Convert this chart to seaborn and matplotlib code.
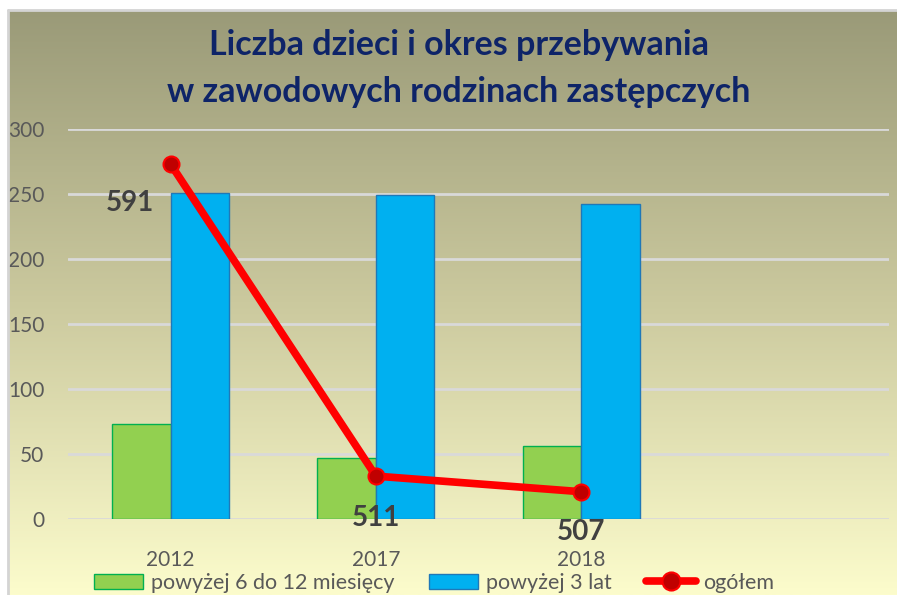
import numpy as np
import pandas as pd
import matplotlib
matplotlib.use('Agg')
import matplotlib.pyplot as plt
import seaborn as sns
from matplotlib.colors import LinearSegmentedColormap
from matplotlib.patches import Patch
from matplotlib.lines import Line2D

# ---- data ----
years = ['2012', '2017', '2018']
series_names = ['powyżej 6 do 12 miesięcy', 'powyżej 3 lat']
short_stay = [73, 47, 56]
long_stay = [251, 249, 242]
total = [591, 511, 507]
total_name = 'ogółem'
title_lines = ['Liczba dzieci i okres przebywania', 'w zawodowych rodzinach zastępczych']
y_ticks = [0, 50, 100, 150, 200, 250, 300]

sns.set_theme(style='white')
plt.rcParams['font.family'] = ['Lato', 'DejaVu Sans']

W, H = 897, 595
fig = plt.figure(figsize=(W / 100, H / 100), dpi=100)
fig.patch.set_facecolor('white')

# gradient background panel
bg = fig.add_axes([8 / W, 0, 1 - 8 / W, 585 / H])
grad = np.linspace(0, 1, 256).reshape(-1, 1)
cmap = LinearSegmentedColormap.from_list('bg', ['#9a9a78', '#cbc99e', '#fcfccc'])
bg.imshow(grad, aspect='auto', cmap=cmap, extent=[0, 1, 0, 1], origin='upper')
bg.set_axis_off()
fig.add_artist(Line2D([7.5 / W, 7.5 / W], [0, 585 / H], color='#d4d4d4', lw=2))
fig.add_artist(Line2D([7.5 / W, 1], [585 / H, 585 / H], color='#d4d4d4', lw=2))

# main axes
ax = fig.add_axes([68 / W, 76 / H, 821 / W, 390 / H])
ax.patch.set_alpha(0)
df = pd.DataFrame({
    'year': years * 2,
    'series': [series_names[0]] * len(years) + [series_names[1]] * len(years),
    'value': short_stay + long_stay,
})
sns.barplot(data=df, x='year', y='value', hue='series', order=years,
            hue_order=series_names, palette=['#92d050', '#00b0f0'],
            width=0.57, saturation=1, ax=ax, legend=False, errorbar=None)
for cont, ec in zip(ax.containers, ['#00b050', '#1f78b8']):
    for bar in cont:
        bar.set_edgecolor(ec)
        bar.set_linewidth(1)

ax.set_xlim(-0.5, 3.5)
ax.set_ylim(0, 300)
ax.set_yticks(y_ticks)
ax.set_xticks(range(len(years)))
ax.set_xticklabels(years)
ax.set_xlabel('')
ax.set_ylabel('')
ax.grid(axis='y', color='#d9d9d9', lw=2)
ax.grid(axis='x', visible=False)
ax.set_axisbelow(True)
for s in ax.spines.values():
    s.set_visible(False)
ax.tick_params(axis='y', labelsize=15, colors='#595959', length=0, pad=17)
ax.tick_params(axis='x', labelsize=15, colors='#595959', length=0, pad=22)

# total line on hidden secondary axis
ax2 = ax.twinx()
ax2.set_ylim(500, 600)
ax2.set_axis_off()
xpos = np.arange(len(years))
sns.lineplot(x=xpos, y=total, ax=ax2, color='#ff0000', lw=5.5, marker='o',
             markersize=11.5, markerfacecolor='#c00000', markeredgecolor='#ff0000',
             markeredgewidth=1.5, legend=False)
offsets = [(-29, -28), (0, -30), (0, -29)]
for x, v, off in zip(xpos, total, offsets):
    ax2.annotate(str(v), (x, v), xytext=off, textcoords='offset points',
                 ha='center', va='center', fontsize=20, fontweight='bold',
                 color='#404040')

# title
fig.text(459 / W, 1 - 45 / H, title_lines[0], ha='center', va='center',
         fontsize=24.5, fontweight='bold', color='#0e2468')
fig.text(459 / W, 1 - 92 / H, title_lines[1], ha='center', va='center',
         fontsize=24.5, fontweight='bold', color='#0e2468')

# legend
handles = [
    Patch(facecolor='#92d050', edgecolor='#00b050', lw=1),
    Patch(facecolor='#00b0f0', edgecolor='#1f78b8', lw=1),
    Line2D([0], [0], color='#ff0000', lw=5.5, marker='o', markersize=13,
           markerfacecolor='#c00000', markeredgecolor='#ff0000', markeredgewidth=1.5),
]
fig.legend(handles, series_names + [total_name], loc='center',
           bbox_to_anchor=(434 / W, 12 / H), ncol=3, frameon=False, fontsize=15.5,
           handlelength=2.3, handleheight=0.75, handletextpad=0.35,
           columnspacing=1.6, labelcolor='#595959')

fig.savefig('out.png', dpi=100)
